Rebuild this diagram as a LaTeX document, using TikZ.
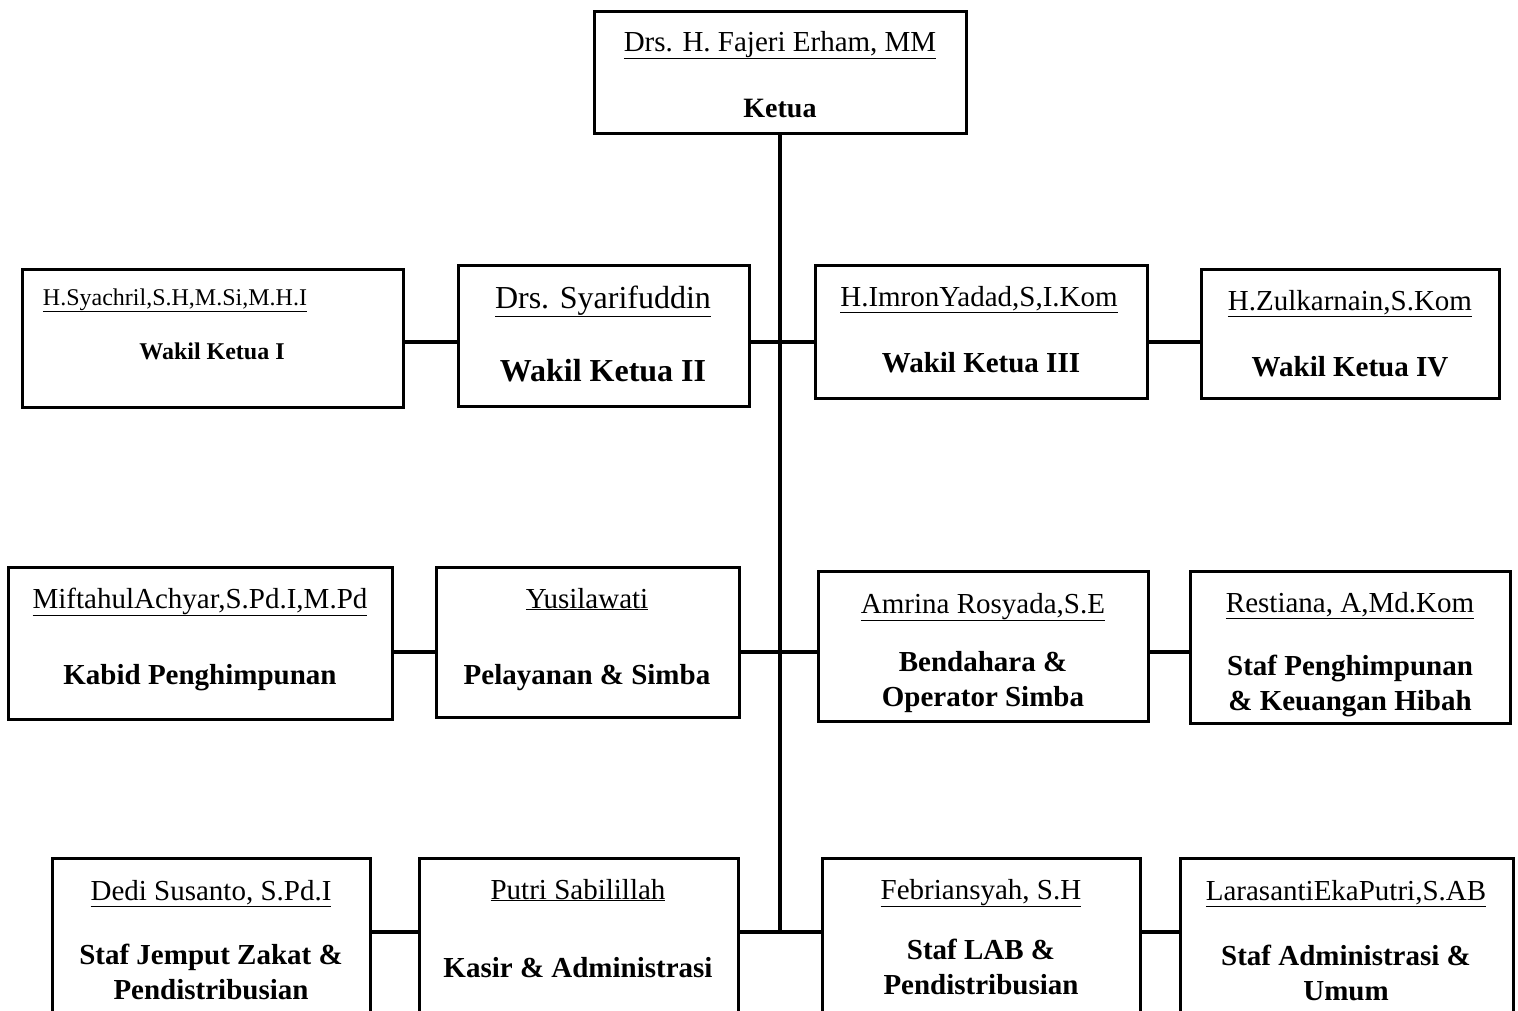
\documentclass[tikz,border=0pt]{standalone}
\usepackage{fontspec}
\setmainfont{Liberation Serif}
\begin{document}
\begin{tikzpicture}[x=1pt,y=-1pt,
  box/.style={draw=black,line width=3pt,fill=white,inner sep=0pt,rectangle},
  conn/.style={draw=black,line width=4pt},
  shade/.style={draw=black!35,line width=4pt,opacity=0.6},
  nm/.style={anchor=base,inner sep=0pt,font=\fontsize{29}{35}\selectfont},
  rl/.style={anchor=base,inner sep=0pt,align=center,font=\fontsize{29}{35}\selectfont\bfseries},
]
\useasboundingbox (0,0) rectangle (1518,1010);
\clip (0,0) rectangle (1518,1010);
\fill[white] (0,0) rectangle (1518,1010);

% junction coordinates
\coordinate (r1) at (780,342);
\coordinate (r2) at (780,652);
\coordinate (r3) at (780,932);

% boxes
\node[box,minimum width=372pt,minimum height=122pt] (ketua) at (780,72) {};
\node[box,minimum width=381pt,minimum height=138pt] (w1) at (212.5,338) {};
\node[box,minimum width=291pt,minimum height=141pt] (w2) at (603.5,335.5) {};
\node[box,minimum width=332pt,minimum height=133pt] (w3) at (981,331.5) {};
\node[box,minimum width=298pt,minimum height=129pt] (w4) at (1350,333.5) {};
\node[box,minimum width=384pt,minimum height=152pt] (kab) at (200,643) {};
\node[box,minimum width=303pt,minimum height=150pt] (pel) at (587.5,642) {};
\node[box,minimum width=330pt,minimum height=150pt] (ben) at (983,646) {};
\node[box,minimum width=320pt,minimum height=152pt] (res) at (1350,647) {};
\node[box,minimum width=318pt,minimum height=172pt] (ded) at (211,944) {};
\node[box,minimum width=319pt,minimum height=172pt] (put) at (578.5,944) {};
\node[box,minimum width=318pt,minimum height=172pt] (feb) at (981,944) {};
\node[box,minimum width=333pt,minimum height=172pt] (lar) at (1346.5,944) {};

% connector shadows
\begin{scope}[yshift=-3pt]
\draw[shade] (ketua.south) -- (r3);
\draw[shade] (w1.east |- r1) -- (w2.west |- r1);
\draw[shade] (w2.east |- r1) -- (w3.west |- r1);
\draw[shade] (w3.east |- r1) -- (w4.west |- r1);
\draw[shade] (kab.east |- r2) -- (pel.west |- r2);
\draw[shade] (pel.east |- r2) -- (ben.west |- r2);
\draw[shade] (ben.east |- r2) -- (res.west |- r2);
\draw[shade] (ded.east |- r3) -- (put.west |- r3);
\draw[shade] (put.east |- r3) -- (feb.west |- r3);
\draw[shade] (feb.east |- r3) -- (lar.west |- r3);
\end{scope}

% connectors
\draw[conn] (ketua.south) -- (r3);
\draw[conn] (w1.east |- r1) -- (w2.west |- r1);
\draw[conn] (w2.east |- r1) -- (w3.west |- r1);
\draw[conn] (w3.east |- r1) -- (w4.west |- r1);
\draw[conn] (kab.east |- r2) -- (pel.west |- r2);
\draw[conn] (pel.east |- r2) -- (ben.west |- r2);
\draw[conn] (ben.east |- r2) -- (res.west |- r2);
\draw[conn] (ded.east |- r3) -- (put.west |- r3);
\draw[conn] (put.east |- r3) -- (feb.west |- r3);
\draw[conn] (feb.east |- r3) -- (lar.west |- r3);

% texts
\node[nm] (ketua-n) at (780,51) {\underline{Drs. H. Fajeri Erham, MM}};
\node[rl,font=\fontsize{28}{34}\selectfont\bfseries] (ketua-r) at (780,117) {Ketua};

\node[nm,font=\fontsize{24}{29}\selectfont] (w1-n) at (175,305) {\underline{H.Syachril,S.H,M.Si,M.H.I}};
\node[rl,font=\fontsize{24}{29}\selectfont\bfseries] (w1-r) at (212,359) {Wakil Ketua I};

\node[nm,font=\fontsize{32}{38}\selectfont] (w2-n) at (603,308) {\underline{Drs. Syarifuddin}};
\node[rl,font=\fontsize{32}{38}\selectfont\bfseries] (w2-r) at (603,381) {Wakil Ketua II};

\node[nm] (w3-n) at (979,306) {\underline{H.ImronYadad,S,I.Kom}};
\node[rl] (w3-r) at (981,372) {Wakil Ketua III};

\node[nm] (w4-n) at (1350,310) {\underline{H.Zulkarnain,S.Kom}};
\node[rl] (w4-r) at (1350,376) {Wakil Ketua IV};

\node[nm] (kab-n) at (200,608) {\underline{MiftahulAchyar,S.Pd.I,M.Pd}};
\node[rl] (kab-r) at (200,684) {Kabid Penghimpunan};

\node[nm] (pel-n) at (587,608) {\underline{Yusilawati}};
\node[rl] (pel-r) at (587,684) {Pelayanan \& Simba};

\node[nm] (ben-n) at (983,613) {\underline{Amrina Rosyada,S.E}};
\node[rl] (ben-r) at (983,706) {Bendahara \&\\Operator Simba};

\node[nm] (res-n) at (1350,612) {\underline{Restiana, A,Md.Kom}};
\node[rl] (res-r) at (1350,710) {Staf Penghimpunan\\\& Keuangan Hibah};

\node[nm] (ded-n) at (211,900) {\underline{Dedi Susanto, S.Pd.I}};
\node[rl] (ded-r) at (211,999) {Staf Jemput Zakat \&\\Pendistribusian};

\node[nm] (put-n) at (578,899) {\underline{Putri Sabilillah}};
\node[rl] (put-r) at (578,977) {Kasir \& Administrasi};

\node[nm] (feb-n) at (981,899) {\underline{Febriansyah, S.H}};
\node[rl] (feb-r) at (981,994) {Staf LAB \&\\Pendistribusian};

\node[nm] (lar-n) at (1346,900) {\underline{LarasantiEkaPutri,S.AB}};
\node[rl] (lar-r) at (1346,1000) {Staf Administrasi \&\\Umum};
\end{tikzpicture}
\end{document}
